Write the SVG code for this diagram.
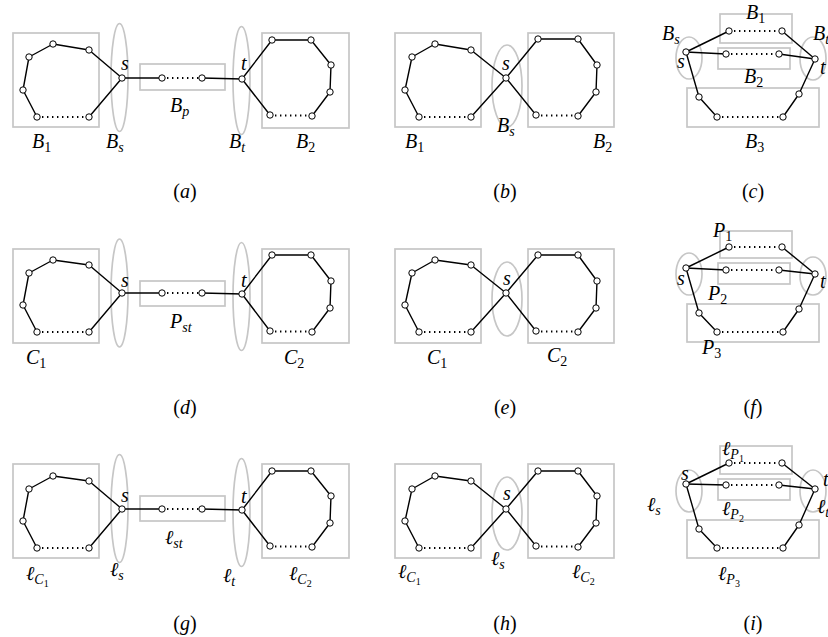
<svg xmlns="http://www.w3.org/2000/svg" width="828" height="637" viewBox="0 0 828 637" font-family="'Liberation Serif', 'DejaVu Serif', serif">
<style>
.box{fill:none;stroke:#c6c6c6;stroke-width:1.7}
.ell{fill:none;stroke:#c6c6c6;stroke-width:1.7}
.e{fill:none;stroke:#000;stroke-width:1.4;stroke-linejoin:round}
.d{fill:none;stroke:#000;stroke-width:1.8;stroke-dasharray:1.4 3.6}
.n{fill:#fff;stroke:#000;stroke-width:1}
text{font-family:'Liberation Serif','DejaVu Serif',serif;font-size:20px;font-style:italic;fill:#000}
text.cap{font-style:normal}
tspan.sb{font-size:14px}
tspan.up{font-style:normal}
tspan.ss{font-size:10px;font-style:normal}
tspan.it{font-style:italic}
</style>
<rect width="828" height="637" fill="#fff"/>

<!-- ===== Column 1: chain panels (a), (d), (g) ===== -->
<g id="panel-a">
  <g id="a-B1"><rect class="box" x="13" y="33" width="86" height="94"/></g>
  <g id="a-Bs"><ellipse class="ell" cx="119.5" cy="77.5" rx="8.5" ry="54"/></g>
  <g id="a-Bp"><rect class="box" x="140" y="64" width="85" height="26"/></g>
  <g id="a-Bt"><ellipse class="ell" cx="241.5" cy="80.5" rx="8.5" ry="54"/></g>
  <g id="a-B2"><rect class="box" x="262" y="33" width="87" height="95"/></g>
  <g id="a-connectors">
    <polyline class="e" points="37,117 23,90 29,57 53,44 89,50 122,78 89,117"/>
    <line class="e" x1="122" y1="78" x2="162" y2="78"/>
    <line class="e" x1="202" y1="78" x2="242" y2="79"/>
    <polyline class="e" points="270,115 242,79 272,40 311,40 331,65 330,92 312,116"/>
    <line class="d" x1="37" y1="117" x2="89" y2="117"/>
    <line class="d" x1="162" y1="78" x2="202" y2="78"/>
    <line class="d" x1="270" y1="115.5" x2="312" y2="115.5"/>
  </g>
  <g id="a-n1"><circle class="n" cx="29" cy="57" r="3.2"/></g>
  <g id="a-n2"><circle class="n" cx="53" cy="44" r="3.2"/></g>
  <g id="a-n3"><circle class="n" cx="89" cy="50" r="3.2"/></g>
  <g id="a-n4"><circle class="n" cx="23" cy="90" r="3.2"/></g>
  <g id="a-n5"><circle class="n" cx="37" cy="117" r="3.2"/></g>
  <g id="a-n6"><circle class="n" cx="89" cy="117" r="3.2"/></g>
  <g id="a-s"><circle class="n" cx="122" cy="78" r="3.2"/></g>
  <g id="a-p1"><circle class="n" cx="162" cy="78" r="3.2"/></g>
  <g id="a-p2"><circle class="n" cx="202" cy="78" r="3.2"/></g>
  <g id="a-t"><circle class="n" cx="242" cy="79" r="3.2"/></g>
  <g id="a-m1"><circle class="n" cx="272" cy="40" r="3.2"/></g>
  <g id="a-m2"><circle class="n" cx="311" cy="40" r="3.2"/></g>
  <g id="a-m3"><circle class="n" cx="331" cy="65" r="3.2"/></g>
  <g id="a-m4"><circle class="n" cx="330" cy="92" r="3.2"/></g>
  <g id="a-m5"><circle class="n" cx="312" cy="116" r="3.2"/></g>
  <g id="a-m6"><circle class="n" cx="270" cy="115" r="3.2"/></g>
  <text x="121" y="70">s</text>
  <text x="241" y="70">t</text>
  <text x="170" y="112">B<tspan class="sb" dy="4">p</tspan></text>
  <text x="32" y="148">B<tspan class="sb up" dy="4">1</tspan></text>
  <text x="106" y="148">B<tspan class="sb" dy="4">s</tspan></text>
  <text x="229" y="148">B<tspan class="sb" dy="4">t</tspan></text>
  <text x="296" y="148">B<tspan class="sb up" dy="4">2</tspan></text>
  <text class="cap" x="185" y="198" text-anchor="middle">(<tspan class="it">a</tspan>)</text>
</g>

<g id="panel-d" transform="translate(0,216)">
  <g id="d-C1"><rect class="box" x="13" y="33" width="86" height="94"/></g>
  <g id="d-Es"><ellipse class="ell" cx="119.5" cy="77" rx="8.5" ry="54"/></g>
  <g id="d-Pst"><rect class="box" x="140" y="65" width="85" height="25"/></g>
  <g id="d-Et"><ellipse class="ell" cx="241.5" cy="80.5" rx="8.5" ry="54"/></g>
  <g id="d-C2"><rect class="box" x="262" y="33" width="87" height="94"/></g>
  <g id="d-connectors">
    <polyline class="e" points="37,116 23,89 29,57 53,44 89,49 122,77 89,116"/>
    <line class="e" x1="122" y1="77" x2="162" y2="77"/>
    <line class="e" x1="202" y1="77" x2="242" y2="78"/>
    <polyline class="e" points="270,115 242,78 272,39 311,39 331,65 330,92 312,116"/>
    <line class="d" x1="37" y1="116" x2="89" y2="116"/>
    <line class="d" x1="162" y1="77" x2="202" y2="77"/>
    <line class="d" x1="270" y1="115.5" x2="312" y2="115.5"/>
  </g>
  <g id="d-n1"><circle class="n" cx="29" cy="57" r="3.2"/></g>
  <g id="d-n2"><circle class="n" cx="53" cy="44" r="3.2"/></g>
  <g id="d-n3"><circle class="n" cx="89" cy="49" r="3.2"/></g>
  <g id="d-n4"><circle class="n" cx="23" cy="89" r="3.2"/></g>
  <g id="d-n5"><circle class="n" cx="37" cy="116" r="3.2"/></g>
  <g id="d-n6"><circle class="n" cx="89" cy="116" r="3.2"/></g>
  <g id="d-s"><circle class="n" cx="122" cy="77" r="3.2"/></g>
  <g id="d-p1"><circle class="n" cx="162" cy="77" r="3.2"/></g>
  <g id="d-p2"><circle class="n" cx="202" cy="77" r="3.2"/></g>
  <g id="d-t"><circle class="n" cx="242" cy="78" r="3.2"/></g>
  <g id="d-m1"><circle class="n" cx="272" cy="39" r="3.2"/></g>
  <g id="d-m2"><circle class="n" cx="311" cy="39" r="3.2"/></g>
  <g id="d-m3"><circle class="n" cx="331" cy="65" r="3.2"/></g>
  <g id="d-m4"><circle class="n" cx="330" cy="92" r="3.2"/></g>
  <g id="d-m5"><circle class="n" cx="312" cy="116" r="3.2"/></g>
  <g id="d-m6"><circle class="n" cx="270" cy="115" r="3.2"/></g>
  <text x="121" y="71">s</text>
  <text x="241" y="71">t</text>
  <text x="170" y="112">P<tspan class="sb" dy="4">st</tspan></text>
  <text x="26" y="148">C<tspan class="sb up" dy="4">1</tspan></text>
  <text x="284" y="148">C<tspan class="sb up" dy="4">2</tspan></text>
  <text class="cap" x="185" y="198" text-anchor="middle">(<tspan class="it">d</tspan>)</text>
</g>

<g id="panel-g" transform="translate(0,431)">
  <g id="g-C1"><rect class="box" x="13" y="33" width="86" height="94"/></g>
  <g id="g-Es"><ellipse class="ell" cx="119.5" cy="77.5" rx="8.5" ry="54"/></g>
  <g id="g-Pst"><rect class="box" x="140" y="65" width="85" height="25"/></g>
  <g id="g-Et"><ellipse class="ell" cx="241.5" cy="81.5" rx="8.5" ry="54"/></g>
  <g id="g-C2"><rect class="box" x="262" y="33" width="87" height="94"/></g>
  <g id="g-connectors">
    <polyline class="e" points="37,117 23,90 29,58 53,45 89,50 122,78 89,117"/>
    <line class="e" x1="122" y1="78" x2="162" y2="78"/>
    <line class="e" x1="202" y1="78" x2="242" y2="79"/>
    <polyline class="e" points="270,115 242,79 272,40 311,40 331,65 330,92 312,116"/>
    <line class="d" x1="37" y1="117" x2="89" y2="117"/>
    <line class="d" x1="162" y1="78" x2="202" y2="78"/>
    <line class="d" x1="270" y1="115.5" x2="312" y2="115.5"/>
  </g>
  <g id="g-n1"><circle class="n" cx="29" cy="58" r="3.2"/></g>
  <g id="g-n2"><circle class="n" cx="53" cy="45" r="3.2"/></g>
  <g id="g-n3"><circle class="n" cx="89" cy="50" r="3.2"/></g>
  <g id="g-n4"><circle class="n" cx="23" cy="90" r="3.2"/></g>
  <g id="g-n5"><circle class="n" cx="37" cy="117" r="3.2"/></g>
  <g id="g-n6"><circle class="n" cx="89" cy="117" r="3.2"/></g>
  <g id="g-s"><circle class="n" cx="122" cy="78" r="3.2"/></g>
  <g id="g-p1"><circle class="n" cx="162" cy="78" r="3.2"/></g>
  <g id="g-p2"><circle class="n" cx="202" cy="78" r="3.2"/></g>
  <g id="g-t"><circle class="n" cx="242" cy="79" r="3.2"/></g>
  <g id="g-m1"><circle class="n" cx="272" cy="40" r="3.2"/></g>
  <g id="g-m2"><circle class="n" cx="311" cy="40" r="3.2"/></g>
  <g id="g-m3"><circle class="n" cx="331" cy="65" r="3.2"/></g>
  <g id="g-m4"><circle class="n" cx="330" cy="92" r="3.2"/></g>
  <g id="g-m5"><circle class="n" cx="312" cy="116" r="3.2"/></g>
  <g id="g-m6"><circle class="n" cx="270" cy="115" r="3.2"/></g>
  <text x="121" y="71">s</text>
  <text x="241" y="72">t</text>
  <text x="165" y="113">ℓ<tspan class="sb" dy="4">st</tspan></text>
  <text x="26" y="149">ℓ<tspan class="sb" dy="4">C</tspan><tspan class="ss" dy="3">1</tspan></text>
  <text x="110" y="145">ℓ<tspan class="sb" dy="4">s</tspan></text>
  <text x="223" y="151">ℓ<tspan class="sb" dy="4">t</tspan></text>
  <text x="289" y="149">ℓ<tspan class="sb" dy="4">C</tspan><tspan class="ss" dy="3">2</tspan></text>
  <text class="cap" x="185" y="199" text-anchor="middle">(<tspan class="it">g</tspan>)</text>
</g>

<!-- ===== Column 2: cut-vertex panels (b), (e), (h) ===== -->
<g id="panel-b">
  <g id="b-B1"><rect class="box" x="395" y="33" width="86" height="94"/></g>
  <g id="b-Bs"><ellipse class="ell" cx="507" cy="86" rx="15" ry="41"/></g>
  <g id="b-B2"><rect class="box" x="528" y="33" width="86" height="94"/></g>
  <g id="b-connectors">
    <polyline class="e" points="419,117 405,90 412,57 435,44 471,50 506,78 536,115"/>
    <polyline class="e" points="471,117 506,78 538,39 578,39 597,65 596,92 578,116"/>
    <line class="d" x1="419" y1="117" x2="471" y2="117"/>
    <line class="d" x1="536" y1="115.5" x2="578" y2="115.5"/>
  </g>
  <g id="b-n1"><circle class="n" cx="412" cy="57" r="3.2"/></g>
  <g id="b-n2"><circle class="n" cx="435" cy="44" r="3.2"/></g>
  <g id="b-n3"><circle class="n" cx="471" cy="50" r="3.2"/></g>
  <g id="b-n4"><circle class="n" cx="405" cy="90" r="3.2"/></g>
  <g id="b-n5"><circle class="n" cx="419" cy="117" r="3.2"/></g>
  <g id="b-n6"><circle class="n" cx="471" cy="117" r="3.2"/></g>
  <g id="b-s"><circle class="n" cx="506" cy="78" r="3.2"/></g>
  <g id="b-m1"><circle class="n" cx="538" cy="39" r="3.2"/></g>
  <g id="b-m2"><circle class="n" cx="578" cy="39" r="3.2"/></g>
  <g id="b-m3"><circle class="n" cx="597" cy="65" r="3.2"/></g>
  <g id="b-m4"><circle class="n" cx="596" cy="92" r="3.2"/></g>
  <g id="b-m5"><circle class="n" cx="578" cy="116" r="3.2"/></g>
  <g id="b-m6"><circle class="n" cx="536" cy="115" r="3.2"/></g>
  <text x="502" y="70">s</text>
  <text x="497" y="132">B<tspan class="sb" dy="4">s</tspan></text>
  <text x="405" y="148">B<tspan class="sb up" dy="4">1</tspan></text>
  <text x="593" y="148">B<tspan class="sb up" dy="4">2</tspan></text>
  <text class="cap" x="505" y="198" text-anchor="middle">(<tspan class="it">b</tspan>)</text>
</g>

<g id="panel-e" transform="translate(0,216)">
  <g id="e-C1"><rect class="box" x="395" y="33" width="86" height="94"/></g>
  <g id="e-Es"><ellipse class="ell" cx="507" cy="83" rx="15" ry="37"/></g>
  <g id="e-C2"><rect class="box" x="528" y="33" width="86" height="94"/></g>
  <g id="e-connectors">
    <polyline class="e" points="419,116 405,89 412,57 435,44 471,49 506,77 536,115"/>
    <polyline class="e" points="471,116 506,77 538,39 578,39 597,65 596,92 578,116"/>
    <line class="d" x1="419" y1="116" x2="471" y2="116"/>
    <line class="d" x1="536" y1="115.5" x2="578" y2="115.5"/>
  </g>
  <g id="e-n1"><circle class="n" cx="412" cy="57" r="3.2"/></g>
  <g id="e-n2"><circle class="n" cx="435" cy="44" r="3.2"/></g>
  <g id="e-n3"><circle class="n" cx="471" cy="49" r="3.2"/></g>
  <g id="e-n4"><circle class="n" cx="405" cy="89" r="3.2"/></g>
  <g id="e-n5"><circle class="n" cx="419" cy="116" r="3.2"/></g>
  <g id="e-n6"><circle class="n" cx="471" cy="116" r="3.2"/></g>
  <g id="e-s"><circle class="n" cx="506" cy="77" r="3.2"/></g>
  <g id="e-m1"><circle class="n" cx="538" cy="39" r="3.2"/></g>
  <g id="e-m2"><circle class="n" cx="578" cy="39" r="3.2"/></g>
  <g id="e-m3"><circle class="n" cx="597" cy="65" r="3.2"/></g>
  <g id="e-m4"><circle class="n" cx="596" cy="92" r="3.2"/></g>
  <g id="e-m5"><circle class="n" cx="578" cy="116" r="3.2"/></g>
  <g id="e-m6"><circle class="n" cx="536" cy="115" r="3.2"/></g>
  <text x="503" y="69">s</text>
  <text x="427" y="148">C<tspan class="sb up" dy="4">1</tspan></text>
  <text x="547" y="146">C<tspan class="sb up" dy="4">2</tspan></text>
  <text class="cap" x="505" y="198" text-anchor="middle">(<tspan class="it">e</tspan>)</text>
</g>

<g id="panel-h" transform="translate(0,431)">
  <g id="h-C1"><rect class="box" x="395" y="33" width="86" height="94"/></g>
  <g id="h-Es"><ellipse class="ell" cx="507" cy="82.5" rx="15" ry="36.5"/></g>
  <g id="h-C2"><rect class="box" x="528" y="33" width="86" height="94"/></g>
  <g id="h-connectors">
    <polyline class="e" points="419,117 405,90 412,58 435,45 471,50 506,78 536,115"/>
    <polyline class="e" points="471,117 506,78 538,40 578,40 597,65 596,92 578,116"/>
    <line class="d" x1="419" y1="117" x2="471" y2="117"/>
    <line class="d" x1="536" y1="115.5" x2="578" y2="115.5"/>
  </g>
  <g id="h-n1"><circle class="n" cx="412" cy="58" r="3.2"/></g>
  <g id="h-n2"><circle class="n" cx="435" cy="45" r="3.2"/></g>
  <g id="h-n3"><circle class="n" cx="471" cy="50" r="3.2"/></g>
  <g id="h-n4"><circle class="n" cx="405" cy="90" r="3.2"/></g>
  <g id="h-n5"><circle class="n" cx="419" cy="117" r="3.2"/></g>
  <g id="h-n6"><circle class="n" cx="471" cy="117" r="3.2"/></g>
  <g id="h-s"><circle class="n" cx="506" cy="78" r="3.2"/></g>
  <g id="h-m1"><circle class="n" cx="538" cy="40" r="3.2"/></g>
  <g id="h-m2"><circle class="n" cx="578" cy="40" r="3.2"/></g>
  <g id="h-m3"><circle class="n" cx="597" cy="65" r="3.2"/></g>
  <g id="h-m4"><circle class="n" cx="596" cy="92" r="3.2"/></g>
  <g id="h-m5"><circle class="n" cx="578" cy="116" r="3.2"/></g>
  <g id="h-m6"><circle class="n" cx="536" cy="115" r="3.2"/></g>
  <text x="503" y="69">s</text>
  <text x="491" y="134">ℓ<tspan class="sb" dy="4">s</tspan></text>
  <text x="398" y="147">ℓ<tspan class="sb" dy="4">C</tspan><tspan class="ss" dy="3">1</tspan></text>
  <text x="572" y="147">ℓ<tspan class="sb" dy="4">C</tspan><tspan class="ss" dy="3">2</tspan></text>
  <text class="cap" x="505" y="199" text-anchor="middle">(<tspan class="it">h</tspan>)</text>
</g>

<!-- ===== Column 3: parallel-path panels (c), (f), (i) ===== -->
<g id="panel-c">
  <g id="c-B1"><rect class="box" x="720" y="14" width="72" height="29"/></g>
  <g id="c-B2"><rect class="box" x="718" y="48" width="72" height="21"/></g>
  <g id="c-B3"><rect class="box" x="687" y="88" width="132" height="39"/></g>
  <g id="c-Bs"><ellipse class="ell" cx="689" cy="58" rx="13" ry="21"/></g>
  <g id="c-Bt"><ellipse class="ell" cx="813" cy="58.5" rx="13" ry="21.5"/></g>
  <g id="c-connectors">
    <polyline class="e" points="686,52 729,31"/>
    <polyline class="e" points="782,31 815,59"/>
    <polyline class="e" points="686,52 726,54"/>
    <polyline class="e" points="779,54 815,59"/>
    <polyline class="e" points="686,52 699,97 717,117"/>
    <polyline class="e" points="783,117 799,94 815,59"/>
    <line class="d" x1="729" y1="31" x2="782" y2="31"/>
    <line class="d" x1="726" y1="54" x2="779" y2="54"/>
    <line class="d" x1="717" y1="117" x2="783" y2="117"/>
  </g>
  <g id="c-s"><circle class="n" cx="686" cy="52" r="3.2"/></g>
  <g id="c-t"><circle class="n" cx="815" cy="59" r="3.2"/></g>
  <g id="c-u1"><circle class="n" cx="729" cy="31" r="3.2"/></g>
  <g id="c-u2"><circle class="n" cx="782" cy="31" r="3.2"/></g>
  <g id="c-v1"><circle class="n" cx="726" cy="54" r="3.2"/></g>
  <g id="c-v2"><circle class="n" cx="779" cy="54" r="3.2"/></g>
  <g id="c-w1"><circle class="n" cx="699" cy="97" r="3.2"/></g>
  <g id="c-w2"><circle class="n" cx="717" cy="117" r="3.2"/></g>
  <g id="c-w3"><circle class="n" cx="783" cy="117" r="3.2"/></g>
  <g id="c-w4"><circle class="n" cx="799" cy="94" r="3.2"/></g>
  <text x="746" y="19">B<tspan class="sb up" dy="4">1</tspan></text>
  <text x="662" y="40">B<tspan class="sb" dy="4">s</tspan></text>
  <text x="813" y="40">B<tspan class="sb" dy="4">t</tspan></text>
  <text x="677" y="68">s</text>
  <text x="820" y="74">t</text>
  <text x="744" y="83">B<tspan class="sb up" dy="4">2</tspan></text>
  <text x="745" y="148">B<tspan class="sb up" dy="4">3</tspan></text>
  <text class="cap" x="753" y="198" text-anchor="middle">(<tspan class="it">c</tspan>)</text>
</g>

<g id="panel-f" transform="translate(0,216)">
  <g id="f-P1"><rect class="box" x="720" y="15" width="72" height="27"/></g>
  <g id="f-P2"><rect class="box" x="718" y="47" width="72" height="21"/></g>
  <g id="f-P3"><rect class="box" x="687" y="88" width="132" height="38"/></g>
  <g id="f-Es"><ellipse class="ell" cx="689" cy="58" rx="13" ry="21"/></g>
  <g id="f-Et"><ellipse class="ell" cx="813" cy="60" rx="13" ry="19"/></g>
  <g id="f-connectors">
    <polyline class="e" points="686,52 729,31"/>
    <polyline class="e" points="782,31 815,58"/>
    <polyline class="e" points="686,52 726,54"/>
    <polyline class="e" points="779,54 815,58"/>
    <polyline class="e" points="686,52 699,97 717,116"/>
    <polyline class="e" points="783,116 799,93 815,58"/>
    <line class="d" x1="729" y1="31" x2="782" y2="31"/>
    <line class="d" x1="726" y1="54" x2="779" y2="54"/>
    <line class="d" x1="717" y1="116" x2="783" y2="116"/>
  </g>
  <g id="f-s"><circle class="n" cx="686" cy="52" r="3.2"/></g>
  <g id="f-t"><circle class="n" cx="815" cy="58" r="3.2"/></g>
  <g id="f-u1"><circle class="n" cx="729" cy="31" r="3.2"/></g>
  <g id="f-u2"><circle class="n" cx="782" cy="31" r="3.2"/></g>
  <g id="f-v1"><circle class="n" cx="726" cy="54" r="3.2"/></g>
  <g id="f-v2"><circle class="n" cx="779" cy="54" r="3.2"/></g>
  <g id="f-w1"><circle class="n" cx="699" cy="97" r="3.2"/></g>
  <g id="f-w2"><circle class="n" cx="717" cy="116" r="3.2"/></g>
  <g id="f-w3"><circle class="n" cx="783" cy="116" r="3.2"/></g>
  <g id="f-w4"><circle class="n" cx="799" cy="93" r="3.2"/></g>
  <text x="713" y="21">P<tspan class="sb up" dy="4">1</tspan></text>
  <text x="708" y="84">P<tspan class="sb up" dy="4">2</tspan></text>
  <text x="702" y="138">P<tspan class="sb up" dy="4">3</tspan></text>
  <text x="677" y="69">s</text>
  <text x="820" y="72">t</text>
  <text class="cap" x="753" y="198" text-anchor="middle">(<tspan class="it">f</tspan>)</text>
</g>

<g id="panel-i" transform="translate(0,432)">
  <g id="i-P1"><rect class="box" x="720" y="14" width="72" height="28"/></g>
  <g id="i-P2"><rect class="box" x="718" y="47" width="72" height="21"/></g>
  <g id="i-P3"><rect class="box" x="687" y="88" width="132" height="38"/></g>
  <g id="i-Es"><ellipse class="ell" cx="689" cy="59" rx="13" ry="21"/></g>
  <g id="i-Et"><ellipse class="ell" cx="813" cy="59" rx="13" ry="21"/></g>
  <g id="i-connectors">
    <polyline class="e" points="686,52 729,31"/>
    <polyline class="e" points="782,31 815,57"/>
    <polyline class="e" points="686,52 726,53"/>
    <polyline class="e" points="779,53 815,57"/>
    <polyline class="e" points="686,52 699,97 717,116"/>
    <polyline class="e" points="783,116 799,93 815,57"/>
    <line class="d" x1="729" y1="31" x2="782" y2="31"/>
    <line class="d" x1="726" y1="53" x2="779" y2="53"/>
    <line class="d" x1="717" y1="116" x2="783" y2="116"/>
  </g>
  <g id="i-s"><circle class="n" cx="686" cy="52" r="3.2"/></g>
  <g id="i-t"><circle class="n" cx="815" cy="57" r="3.2"/></g>
  <g id="i-u1"><circle class="n" cx="729" cy="31" r="3.2"/></g>
  <g id="i-u2"><circle class="n" cx="782" cy="31" r="3.2"/></g>
  <g id="i-v1"><circle class="n" cx="726" cy="53" r="3.2"/></g>
  <g id="i-v2"><circle class="n" cx="779" cy="53" r="3.2"/></g>
  <g id="i-w1"><circle class="n" cx="699" cy="97" r="3.2"/></g>
  <g id="i-w2"><circle class="n" cx="717" cy="116" r="3.2"/></g>
  <g id="i-w3"><circle class="n" cx="783" cy="116" r="3.2"/></g>
  <g id="i-w4"><circle class="n" cx="799" cy="93" r="3.2"/></g>
  <text x="722" y="23">ℓ<tspan class="sb" dy="4">P</tspan><tspan class="ss" dy="3">1</tspan></text>
  <text x="722" y="83">ℓ<tspan class="sb" dy="4">P</tspan><tspan class="ss" dy="3">2</tspan></text>
  <text x="718" y="148">ℓ<tspan class="sb" dy="4">P</tspan><tspan class="ss" dy="3">3</tspan></text>
  <text x="647" y="79">ℓ<tspan class="sb" dy="4">s</tspan></text>
  <text x="681" y="48">s</text>
  <text x="823" y="54">t</text>
  <text x="817" y="81">ℓ<tspan class="sb" dy="4">t</tspan></text>
  <text class="cap" x="753" y="198" text-anchor="middle">(<tspan class="it">i</tspan>)</text>
</g>
</svg>
